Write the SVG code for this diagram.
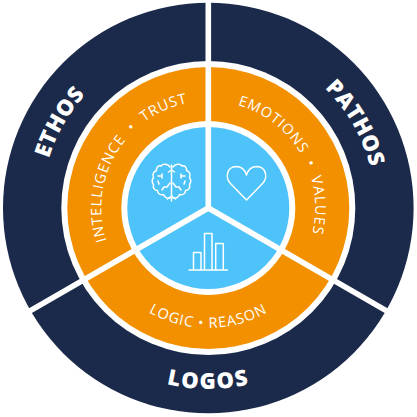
<svg xmlns="http://www.w3.org/2000/svg" width="417" height="417" viewBox="0 0 417 417">
<style>
.big{font-family:"Open Sans","Liberation Sans",sans-serif;font-weight:800;font-size:22px;fill:#fff;letter-spacing:.4px;text-anchor:middle}
.mid{font-family:"Open Sans","Liberation Sans",sans-serif;font-weight:400;font-size:14.5px;fill:#fff;letter-spacing:.9px;text-anchor:middle}
.ic{fill:none;stroke:#fff;stroke-width:1.5;stroke-linejoin:round;stroke-linecap:round}
</style>
<defs>
<path id="pEthos" d="M 63.7 291.5 A 167 167 0 0 1 208.3 41"/>
<path id="pPathos" d="M 208.3 41 A 167 167 0 0 1 352.9 291.5"/>
<path id="pLogos" d="M 51.5 298.500 A 181 181 0 0 0 365.100 298.500"/>
<path id="pInt" d="M 115.6 261.5 A 107 107 0 0 1 208.3 101"/>
<path id="pEmo" d="M 208.3 101 A 107 107 0 0 1 301 261.5"/>
<path id="pLog" d="M 104.4 268 A 120 120 0 0 0 312.2 268"/>
</defs>
<g id="rings">
<circle cx="208.3" cy="208" r="205.3" fill="#1b2a4a"/>
<circle cx="208.3" cy="208" r="147" fill="#fff"/>
<circle cx="208.3" cy="208" r="141" fill="#f39000"/>
<circle cx="208.3" cy="208" r="87" fill="#fff"/>
<circle cx="208.3" cy="208" r="81" fill="#4dc3f9"/>
</g>
<g id="connectors" stroke="#fff" stroke-width="5.6" fill="none">
<path d="M208.3 208V0"/>
<path d="M208.3 208L27 312.7"/>
<path d="M208.3 208L389.6 312.7"/>
</g>
<g id="ethos">
<text class="big"><textPath href="#pEthos" startOffset="50%">ETHOS</textPath></text>
<text class="mid"><textPath href="#pInt" startOffset="50.500%">INTELLIGENCE &#160;•&#160; TRUST</textPath></text>
<g id="brain" class="ic">
<path d="M171.5 165V201"/>
<path d="M170 167c-2-3-7-4-9-1c-3-1-5 2-4.500 4.500c-3 1-4.500 4-3 7c-1.500 2-1.500 5 0 7c-1 3 1 6 4 6c0 3 3 5 6 4c1 3 5 5 7 3"/>
<path d="M173 167c2-3 7-4 9-1c3-1 5 2 4.500 4.500c3 1 4.500 4 3 7c1.500 2 1.500 5 0 7c1 3-1 6-4 6c0 3-3 5-6 4c-1 3-5 5-7 3"/>
<path d="M171.500 170l-3 2M171.500 170l3 2M171.500 196l-4 3M171.500 196l4 3M170 183l-3 4h-3l-2 3M173 183l3 4h3l2 3M158 176h4M185 176h-4M162 174v4M181 174v4M158 181l1 3M185 181l-1 3"/>
</g>
</g>
<g id="pathos">
<text class="big"><textPath href="#pPathos" startOffset="50%">PATHOS</textPath></text>
<text class="mid"><textPath href="#pEmo" startOffset="50%">EMOTIONS &#160;•&#160; VALUES</textPath></text>
<path id="heart" class="ic" d="M246.500 200L230 183C225 177 227 167 236 166.500C241 166.500 245 170 246.500 175C248 170 252 166.500 257 166.500C266 167 268 177 263 183Z"/>
</g>
<g id="logos">
<text class="big" style="letter-spacing:1.5px"><textPath href="#pLogos" startOffset="50%">LOGOS</textPath></text>
<text class="mid"><textPath href="#pLog" startOffset="50%">LOGIC • REASON</textPath></text>
<g id="bars" class="ic">
<path d="M193.500 269V252.500H201V269M204.500 269V233.500H212V269M215.700 269V243.500H223.300V269M189 270H227.500"/>
</g>
</g>
</svg>
